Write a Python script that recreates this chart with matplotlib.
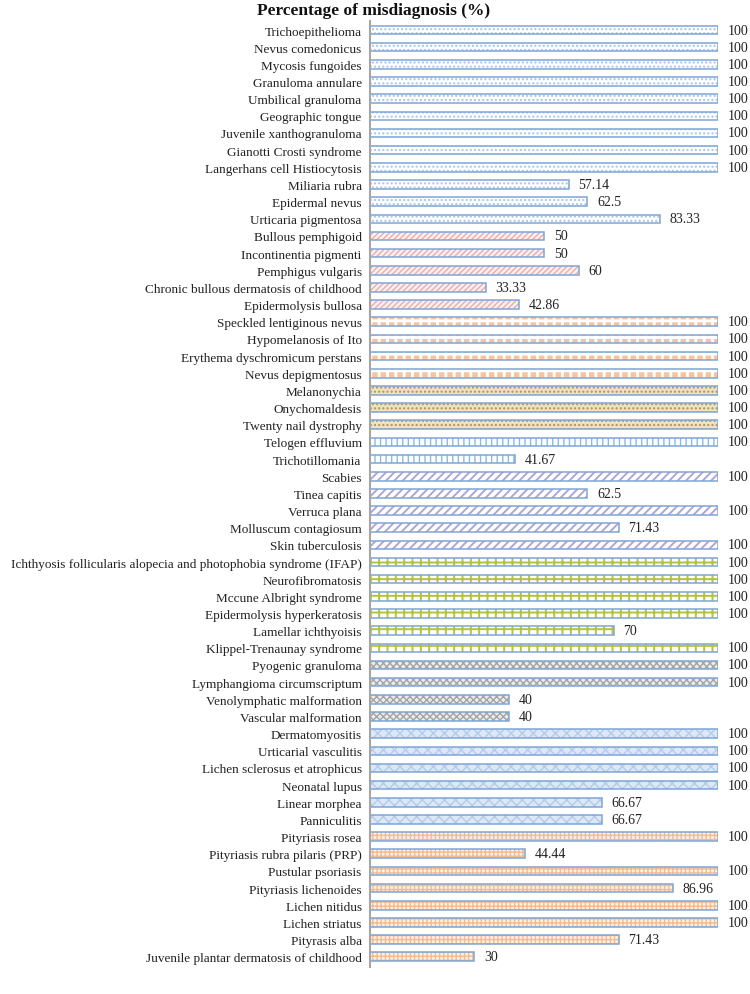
import matplotlib
matplotlib.use("Agg")
import matplotlib.pyplot as plt

categories = [
    "Trichoepithelioma", "Nevus comedonicus", "Mycosis fungoides", "Granuloma annulare",
    "Umbilical granuloma", "Geographic tongue", "Juvenile xanthogranuloma",
    "Gianotti Crosti syndrome", "Langerhans cell Histiocytosis", "Miliaria rubra",
    "Epidermal nevus", "Urticaria pigmentosa",
    "Bullous pemphigoid", "Incontinentia pigmenti", "Pemphigus vulgaris",
    "Chronic bullous dermatosis of childhood", "Epidermolysis bullosa",
    "Speckled lentiginous nevus", "Hypomelanosis of Ito", "Erythema dyschromicum perstans",
    "Nevus depigmentosus",
    "Melanonychia", "Onychomaldesis", "Twenty nail dystrophy",
    "Telogen effluvium", "Trichotillomania",
    "Scabies", "Tinea capitis", "Verruca plana", "Molluscum contagiosum", "Skin tuberculosis",
    "Ichthyosis follicularis alopecia and photophobia syndrome (IFAP)", "Neurofibromatosis",
    "Mccune Albright syndrome", "Epidermolysis hyperkeratosis", "Lamellar ichthyoisis",
    "Klippel-Trenaunay syndrome",
    "Pyogenic granuloma", "Lymphangioma circumscriptum", "Venolymphatic malformation",
    "Vascular malformation",
    "Dermatomyositis", "Urticarial vasculitis", "Lichen sclerosus et atrophicus",
    "Neonatal lupus", "Linear morphea", "Panniculitis",
    "Pityriasis rosea", "Pityriasis rubra pilaris (PRP)", "Pustular psoriasis",
    "Pityriasis lichenoides", "Lichen nitidus", "Lichen striatus", "Pityrasis alba",
    "Juvenile plantar dermatosis of childhood",
]

values = [
    100, 100, 100, 100, 100, 100, 100, 100, 100, 57.14, 62.5, 83.33,
    50, 50, 60, 33.33, 42.86,
    100, 100, 100, 100,
    100, 100, 100,
    100, 41.67,
    100, 62.5, 100, 71.43, 100,
    100, 100, 100, 100, 70, 100,
    100, 100, 40, 40,
    100, 100, 100, 100, 66.67, 66.67,
    100, 44.44, 100, 86.96, 100, 100, 71.43, 30,
]

value_labels = [
    "100", "100", "100", "100", "100", "100", "100", "100", "100", "57.14", "62.5", "83.33",
    "50", "50", "60", "33.33", "42.86",
    "100", "100", "100", "100",
    "100", "100", "100",
    "100", "41.67",
    "100", "62.5", "100", "71.43", "100",
    "100", "100", "100", "100", "70", "100",
    "100", "100", "40", "40",
    "100", "100", "100", "100", "66.67", "66.67",
    "100", "44.44", "100", "86.96", "100", "100", "71.43", "30",
]

group_sizes = [12, 5, 4, 3, 2, 5, 6, 4, 6, 8]

# (facecolor, hatch, hatch colour, hatch line width) per group
group_styles = [
    ("#ffffff", "....", "#a9c5e8", 1.0),
    ("#fdf1f1", "//////", "#eeaaaa", 1.0),
    ("#f8c4a0", "++", "#ffffff", 2.0),
    ("#efe2c2", "....", "#b39450", 1.0),
    ("#ffffff", "|||", "#86bde0", 1.0),
    ("#ffffff", "////", "#b3a3d6", 1.4),
    ("#ffffff", "++", "#b3c43c", 1.4),
    ("#ececec", "xxxxx", "#a4a4a4", 1.0),
    ("#dce8f6", "xxx", "#b4cbe9", 1.0),
    ("#fdf1e8", "++++", "#f4bb8e", 1.0),
]

plt.rcParams["font.family"] = ["Liberation Serif", "DejaVu Serif"]

fig = plt.figure(figsize=(7.5, 9.95), dpi=100)
ax = fig.add_axes([0.4933, 0.0271, 0.464, 0.9512])

edge = "#7ea6d8"
bar_h = 0.5
start = 0
for size, (fc, hatch, hc, hlw) in zip(group_sizes, group_styles):
    idx = list(range(start, start + size))
    vals = values[start:start + size]
    with plt.rc_context({"hatch.linewidth": hlw}):
        ax.barh(idx, vals, height=bar_h, color=fc, edgecolor=hc, hatch=hatch, linewidth=0)
    ax.barh(idx, vals, height=bar_h, fill=False, edgecolor=edge, linewidth=1.1)
    start += size

for i, (v, lab) in enumerate(zip(values, value_labels)):
    ax.text(v + 2.8, i, lab, va="center", ha="left", fontsize=10, color="#222222",
            clip_on=False)

ax.set_yticks(range(len(categories)))
ax.set_yticklabels(categories, fontsize=9.5, color="#222222")
ax.set_ylim(len(categories) - 0.4, -0.55)
ax.set_xlim(0, 100)
ax.set_xticks([])
ax.tick_params(axis="y", length=0, pad=6)
for s in ["top", "right", "bottom"]:
    ax.spines[s].set_visible(False)
ax.spines["left"].set_color("#a6a6a6")
ax.spines["left"].set_linewidth(1.5)

fig.text(0.498, 0.989, "Percentage of misdiagnosis (%)", ha="center", va="center",
         fontsize=12.5, fontweight="bold", color="#111111")

fig.savefig("out.png", dpi=100)
